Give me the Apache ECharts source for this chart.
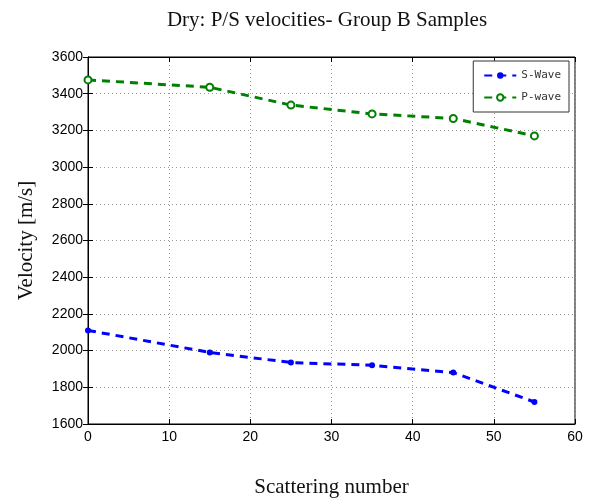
<!DOCTYPE html>
<html><head><meta charset="utf-8">
<script src="https://cdn.jsdelivr.net/npm/echarts@6/dist/echarts.min.js"></script>
<style>html,body{margin:0;padding:0;background:#fff}#c{width:590px;height:499px}</style>
</head><body><div id="c"></div>
<script>
const scattering = [0, 15, 25, 35, 45, 55];
const sWave = [2110, 1990, 1935, 1920, 1880, 1720];
const pWave = [3475, 3435, 3338, 3290, 3265, 3170];
const xTicks = [0, 10, 20, 30, 40, 50, 60];
const yTicks = [1600, 1800, 2000, 2200, 2400, 2600, 2800, 3000, 3200, 3400, 3600];

const chart = echarts.init(document.getElementById('c'));
const tickFont = {fontFamily: 'Liberation Sans', fontSize: 14, color: '#000'};
chart.setOption({
  animation: false,
  title: {text: 'Dry: P/S velocities- Group B Samples', left: 322, top: 5, textAlign: 'center',
    textStyle: {fontFamily: 'Liberation Serif', fontSize: 21, fontWeight: 'normal', color: '#111'}},
  grid: {left: 88, right: 15, top: 57, bottom: 75, show: true, borderColor: '#000', borderWidth: 1,
    outerBoundsMode: 'none', containLabel: false},
  legend: {
    right: 21, top: 61, orient: 'vertical', backgroundColor: '#fff',
    borderColor: '#333', borderWidth: 1, borderRadius: 0, padding: [9, 8, 9, 10],
    itemGap: 11, itemWidth: 32, itemHeight: 8,
    textStyle: {fontFamily: 'DejaVu Sans Mono', fontSize: 11, color: '#333'},
    data: ['S-Wave', 'P-wave']
  },
  xAxis: [{
    type: 'value', min: 0, max: 60, interval: 10,
    name: 'Scattering number', nameLocation: 'middle', nameGap: 53,
    nameTextStyle: {fontFamily: 'Liberation Serif', fontSize: 21, color: '#111'},
    axisLine: {show: true, lineStyle: {color: '#000'}},
    axisTick: {inside: true, length: 5, lineStyle: {color: '#000'}},
    axisLabel: Object.assign({margin: 6}, tickFont),
    splitLine: {show: true, lineStyle: {color: '#999', type: [1, 3]}}
  }, {
    type: 'value', min: 0, max: 60, interval: 10, position: 'top',
    axisLine: {show: true, lineStyle: {color: '#000'}},
    axisTick: {inside: true, length: 5, lineStyle: {color: '#000'}},
    axisLabel: {show: false}, splitLine: {show: false}
  }],
  yAxis: [{
    type: 'value', min: 1600, max: 3600, interval: 200,
    name: 'Velocity [m/s]', nameLocation: 'middle', nameGap: 51,
    nameTextStyle: {fontFamily: 'Liberation Serif', fontSize: 21, fontWeight: 'normal', color: '#111'},
    axisLine: {show: true, lineStyle: {color: '#000'}},
    axisTick: {inside: true, length: 5, lineStyle: {color: '#000'}},
    axisLabel: Object.assign({margin: 5, formatter: v => String(v)}, tickFont),
    splitLine: {show: true, lineStyle: {color: '#999', type: [1, 3]}}
  }, {
    type: 'value', min: 1600, max: 3600, interval: 200, position: 'right',
    axisLine: {show: true, lineStyle: {color: '#000'}},
    axisTick: {inside: true, length: 5, lineStyle: {color: '#000'}},
    axisLabel: {show: false}, splitLine: {show: false}
  }],
  series: [{
    name: 'S-Wave', type: 'line',
    data: scattering.map((x, i) => [x, sWave[i]]),
    symbol: 'circle', symbolSize: 6,
    lineStyle: {color: '#0000ff', width: 3, type: [8, 6]},
    itemStyle: {color: '#0000ff'}
  }, {
    name: 'P-wave', type: 'line',
    data: scattering.map((x, i) => [x, pWave[i]]),
    symbol: 'emptyCircle', symbolSize: 7,
    lineStyle: {color: '#008000', width: 3, type: [8, 6]},
    itemStyle: {color: '#008000', borderWidth: 2.5, borderColor: '#008000'}
  }]
});
</script></body></html>
